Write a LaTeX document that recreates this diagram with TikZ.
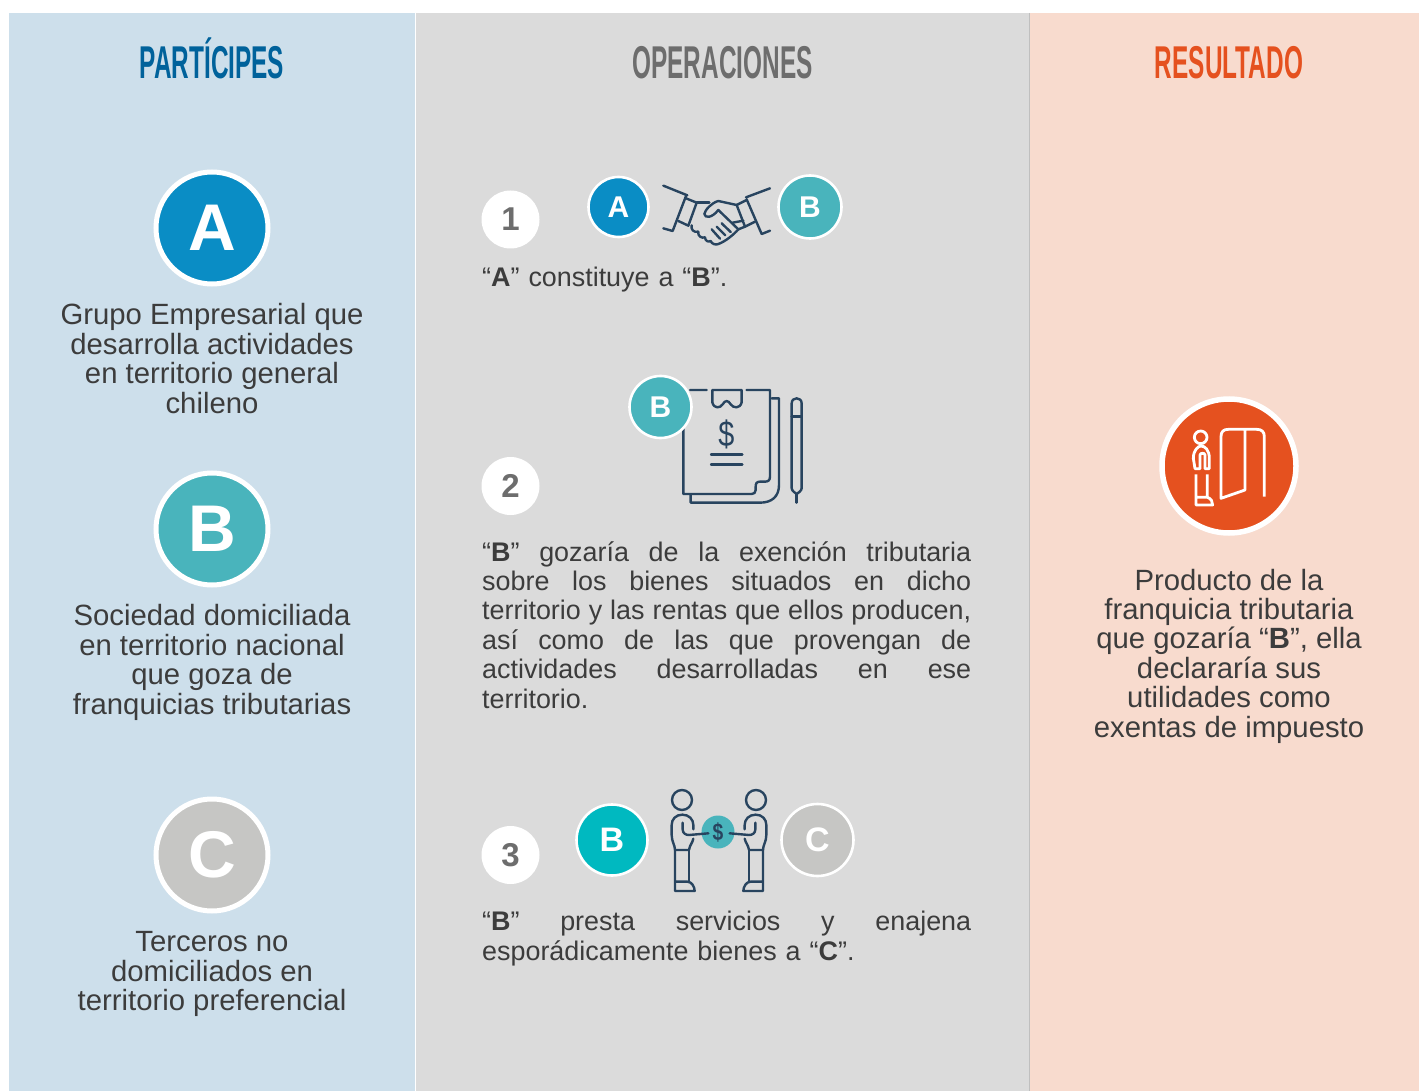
\documentclass[tikz,border=0pt]{standalone}
\usepackage{fontspec}
\setmainfont{Liberation Sans}
\newfontfamily\headfont[FakeStretch=0.53]{Liberation Sans}
\newfontfamily\signfont[FakeStretch=0.8]{Liberation Sans}
\usetikzlibrary{positioning}
\definecolor{panelblue}{HTML}{CDDFEB}
\definecolor{panelgray}{HTML}{DBDBDB}
\definecolor{panelpeach}{HTML}{F8DBCE}
\definecolor{headblue}{HTML}{00629B}
\definecolor{headgray}{HTML}{6D6D6D}
\definecolor{orangeres}{HTML}{E5511F}
\definecolor{azulA}{HTML}{0A8DC5}
\definecolor{tealB}{HTML}{49B4BC}
\definecolor{cianB}{HTML}{00B9C0}
\definecolor{grisC}{HTML}{C6C6C4}
\definecolor{inkline}{HTML}{28445F}
\definecolor{bodytext}{HTML}{3C3C3C}
\newcommand{\jline}[1]{\leavevmode\hbox to 489pt{\spaceskip=.25em plus 1fil\relax #1}\\}
\begin{document}
\begin{tikzpicture}[x=1pt, y=-1pt,
    heading/.style={anchor=base, font=\headfont\bfseries\fontsize{46}{46}\selectfont},
    bodyc/.style={text=bodytext, align=center, inner sep=0pt, font=\fontsize{29.3}{29.4}\selectfont},
    bodyj/.style={text=bodytext, align=left, inner sep=0pt, anchor=north west, text width=489pt, font=\fontsize{26.9}{29.4}\selectfont},
    badge/.style={circle, draw=white, text=white, inner sep=0pt, font=\bfseries},
    bigbadge/.style={badge, line width=5pt, minimum size=112pt, font=\bfseries\fontsize{66}{66}\selectfont},
    midbadge/.style={badge, line width=2.6pt, minimum size=63pt, font=\bfseries\fontsize{30}{30}\selectfont},
    stepdot/.style={circle, fill=white, inner sep=0pt, minimum size=58pt, text=headgray, font=\bfseries\fontsize{33}{33}\selectfont},
    icon/.style={draw=inkline, line width=2.4pt, line cap=round, line join=round},
    resicon/.style={draw=white, line width=2.8pt, line join=round}]
  \useasboundingbox (0,0) rectangle (1419,1091);
  % columns
  \fill[panelblue] (9,13) rectangle (415,1091);
  \fill[panelgray] (416,13) rectangle (1029,1091);
  \fill[panelpeach] (1030,13) rectangle (1419,1091);
  \draw[black!25, line width=.8pt] (1029.5,13) -- (1029.5,1091);
  \node[heading, text=headblue] (partHead) at (212,79) {PARTÍCIPES};
  \node[heading, text=headgray] (operHead) at (722.5,79) {OPERACIONES};
  \node[heading, text=orangeres] (resHead) at (1229,79) {RESULTADO};
  % participants
  \node[bigbadge, fill=azulA] (partA) at (212,228) {A};
  \node[bodyc, below=17pt of partA] (textA) {Grupo Empresarial que\\desarrolla actividades\\en territorio general\\chileno};
  \node[bigbadge, fill=tealB] (partB) at (212,529) {B};
  \node[bodyc, below=17pt of partB] (textB) {Sociedad domiciliada\\en territorio nacional\\que goza de\\franquicias tributarias};
  \node[bigbadge, fill=grisC] (partC) at (212,855) {C};
  \node[bodyc, below=18pt of partC] (textC) {Terceros no\\domiciliados en\\territorio preferencial};
  % step 1
  \node[stepdot] (stepOne) at (510.5,219.5) {1};
  \node[midbadge, fill=azulA, minimum size=60pt] (opA) at (618.5,207) {A};
  \node[midbadge, fill=tealB] (opB) at (810,207) {B};
  \node[bodyj] (textOne) at (482,267) {“\textbf{A}” constituye a “\textbf{B}”.};
  \begin{scope}[shift={(570,160)}, scale=1/3]
    \draw[icon] (280,77) -- (352,106) (348,108) -- (308,213) -- (280,205);
    \draw[icon] (600,85) -- (528,112) (530,118) -- (575,222) -- (600,212);
    \draw[icon] (348,115) -- (380,128) -- (355,197) -- (325,183);
    \draw[icon] (530,120) -- (500,135) -- (525,200) -- (555,185);
    \draw[icon] (380,128) -- (418,128);
    \draw[icon] (500,135) -- (445,123) .. controls (425,128) and (405,150) .. (403,162)
      .. controls (405,175) and (425,175) .. (445,150) -- (505,208);
    % knuckles
    \draw[icon] (365,196) .. controls (362,210) and (372,218) .. (385,215)
      .. controls (382,228) and (395,236) .. (405,232)
      .. controls (405,242) and (415,248) .. (422,243)
      .. controls (425,252) and (438,256) .. (445,252)
      .. controls (465,245) and (490,225) .. (505,208);
    \draw[icon] (425,208) -- (450,236) (440,200) -- (466,226) (455,190) -- (482,216);
    \draw[icon] (488,188) -- (520,182) (505,208) -- (525,200);
  \end{scope}
  % step 2
  \node[stepdot] (stepTwo) at (510.5,486) {2};
  \begin{scope}[shift={(610,365)}, scale=1/3]
    \draw[icon] (240,75) -- (290,75) (410,75) -- (480,75) -- (480,335)
      .. controls (480,345) and (475,350) .. (465,350) -- (450,350)
      .. controls (440,350) and (437,355) .. (437,365) -- (437,375)
      .. controls (437,383) and (432,387) .. (425,387) -- (220,387) -- (220,190);
    \draw[icon] (485,100) -- (507,100) -- (507,360)
      .. controls (507,395) and (485,413) .. (450,413) -- (242,413) -- (242,390);
    \draw[icon] (307,75) -- (395,75) -- (395,112)
      .. controls (390,132) and (370,130) .. (362,118)
      .. controls (355,105) and (345,105) .. (338,118)
      .. controls (330,130) and (312,132) .. (307,112) -- cycle;
    \draw[icon] (303,268) -- (397,268) (303,299) -- (397,299);
    \draw[icon] (545,115) .. controls (545,95) and (575,95) .. (575,115) -- (575,370)
      .. controls (575,378) and (562,385) .. (560,387) .. controls (558,385) and (545,378) .. (545,370) -- cycle;
    \draw[icon] (545,155) -- (575,155) (560,387) -- (560,413);
  \end{scope}
  \node[text=inkline, inner sep=0pt, font=\signfont\fontsize{36}{36}\selectfont] (billSign) at (726.5,434) {\$};
  \node[midbadge, fill=tealB, minimum size=62pt] (opBtwo) at (660.5,407) {B};
  \node[bodyj] (textTwo) at (482,541) {%
    \jline{“\textbf{B}” gozaría de la exención tributaria}%
    \jline{sobre los bienes situados en dicho}%
    \jline{territorio y las rentas que ellos producen,}%
    \jline{así como de las que provengan de}%
    \jline{actividades desarrolladas en ese}%
    territorio.};
  % step 3
  \node[stepdot] (stepThree) at (510.5,855) {3};
  \node[midbadge, fill=cianB, minimum size=71pt, font=\bfseries\fontsize{34}{34}\selectfont] (opBthree) at (612,840) {B};
  \node[midbadge, fill=grisC, minimum size=72pt, font=\bfseries\fontsize{34}{34}\selectfont] (opC) at (817.5,840) {C};
  \node[circle, fill=tealB, minimum size=33pt, inner sep=0pt] (coin) at (718,832) {};
  \node[text=inkline, inner sep=0pt, font=\signfont\bfseries\fontsize{24}{24}\selectfont] (coinSign) at (coin.center) {\$};
  \foreach \flip in {1,-1}{
    \begin{scope}[shift={(719,780)}, xscale=\flip/3, yscale=1/3]
      \draw[icon] (-111,60) circle (30);
      \draw[icon] (-110,104) .. controls (-130,104) and (-142,118) .. (-142,135) -- (-142,165)
        .. controls (-142,185) and (-132,195) .. (-132,210) -- (-90,210)
        .. controls (-88,195) and (-80,190) .. (-77,176);
      \draw[icon] (-110,104) .. controls (-90,104) and (-77,118) .. (-77,135) -- (-77,148);
      \draw[icon] (-109,128) -- (-109,148) .. controls (-109,160) and (-100,165) .. (-90,165) -- (-32,160);
      \draw[icon] (-132,210) -- (-132,333) -- (-73,333)
        .. controls (-73,320) and (-82,305) .. (-95,305) -- (-132,305);
      \draw[icon] (-90,210) -- (-90,305);
    \end{scope}
  }
  \node[bodyj] (textThree) at (482,911) {%
    \jline{“\textbf{B}” presta servicios y enajena}%
    esporádicamente bienes a “\textbf{C}”.};
  % result
  \node[badge, fill=orangeres, line width=5.5pt, minimum size=134pt] (resCircle) at (1229,466) {};
  \begin{scope}[shift={(1150,390)}, scale=1/3]
    \draw[resicon] (152,142) circle (19);
    \draw[resicon] (135,236) -- (130,205) .. controls (130,180) and (145,168) .. (153,168)
      .. controls (165,168) and (178,180) .. (178,205) -- (178,236) -- (165,236) -- (165,195)
      .. controls (165,188) and (150,188) .. (150,195) -- (150,236) -- cycle;
    \draw[resicon] (172,253) -- (172,322) -- (140,322) (138,253) -- (138,345) -- (188,345)
      .. controls (188,335) and (184,326) .. (172,322);
    \draw[resicon] (343,320) -- (343,140) .. controls (343,125) and (335,118) .. (320,118)
      -- (235,118) .. controls (220,118) and (213,125) .. (213,140) -- (213,325) -- (285,300) -- (285,118);
  \end{scope}
  \node[bodyc, below=33pt of resCircle] (textRes) {Producto de la\\franquicia tributaria\\que gozaría “\textbf{B}”, ella\\declararía sus\\utilidades como\\exentas de impuesto};
\end{tikzpicture}
\end{document}
